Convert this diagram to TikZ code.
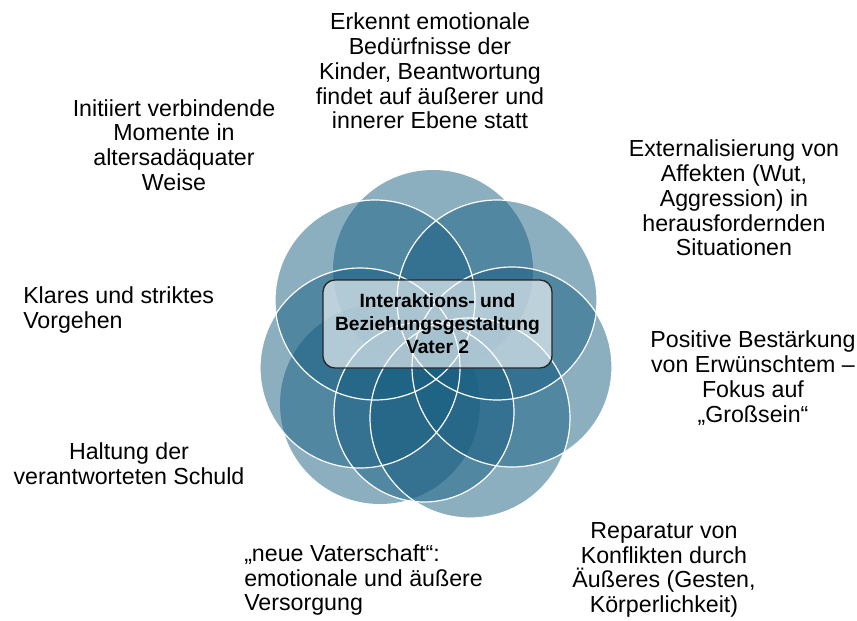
\documentclass[tikz,border=0pt]{standalone}
\usepackage{fontspec}
\setmainfont{Liberation Sans}
\definecolor{petalblue}{RGB}{25,95,130}
\tikzset{
  petal/.style={fill=petalblue, fill opacity=0.5},
  rim/.style={draw=white, line width=0.9pt},
  lbl/.style={font=\fontsize{17.4}{18.6}\selectfont, align=center, inner sep=0pt},
}
\begin{document}
\begin{tikzpicture}[x=0.75pt,y=-0.75pt]
  \useasboundingbox (0,0) rectangle (857,621);
  % eight overlapping petals
  \fill[petal] (433,270) circle (75pt); % top
  \fill[petal] (497,300) circle (75pt); % upper right
  \fill[petal] (512,367) circle (75pt); % right
  \fill[petal] (470,418) circle (75pt); % lower right
  \fill[petal] (380,404) circle (75pt); % lower left
  \fill[petal] (424,412) circle (67.5pt); % bottom
  \fill[petal] (360,368) circle (75pt); % left
  \fill[petal] (375,300) circle (75pt); % upper left
  % white rims
  \draw[rim] (497,300) circle (75pt);
  \draw[rim] (512,367) circle (75pt);
  \draw[rim] (470,418) circle (75pt);
  \draw[rim] (424,412) circle (67.5pt);
  \draw[rim] (360,368) circle (75pt);
  \draw[rim] (375,300) circle (75pt);
  % centre box
  \node (mitte) [draw=black!85, line width=1pt, rounded corners=9pt, fill=white, fill opacity=0.62,
    text opacity=1, minimum width=171.75pt, minimum height=66pt, align=center,
    font=\fontsize{14.4}{17.3}\selectfont\bfseries] at (437.5,324)
    {Interaktions- und\\Beziehungsgestaltung\\Vater 2};
  % labels round the flower
  \node (oben) [lbl] at (430,71) {Erkennt emotionale\\Bedürfnisse der\\Kinder, Beantwortung\\findet auf äußerer und\\innerer Ebene statt};
  \node (obenrechts) [lbl] at (734,198) {Externalisierung von\\Affekten (Wut,\\Aggression) in\\herausfordernden\\Situationen};
  \node (rechts) [lbl] at (753,378) {Positive Bestärkung\\von Erwünschtem –\\Fokus auf\\„Großsein“};
  \node (untenrechts) [lbl] at (664,570) {Reparatur von\\Konflikten durch\\Äußeres (Gesten,\\Körperlichkeit)};
  \node (unten) [lbl, align=left, anchor=west] at (244,580) {„neue Vaterschaft“:\\emotionale und äußere\\Versorgung};
  \node (untenlinks) [lbl] at (129,464) {Haltung der\\verantworteten Schuld};
  \node (links) [lbl, align=left, anchor=west] at (23,310) {Klares und striktes\\Vorgehen};
  \node (obenlinks) [lbl] at (174,145) {Initiiert verbindende\\Momente in\\altersadäquater\\Weise};
\end{tikzpicture}
\end{document}
